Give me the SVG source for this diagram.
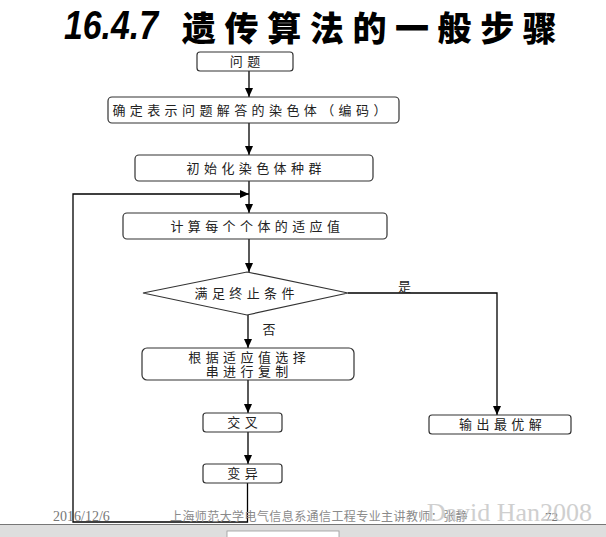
<svg xmlns="http://www.w3.org/2000/svg" width="606" height="537" viewBox="0 0 606 537">
<defs>
<marker id="ah" markerWidth="10" markerHeight="8" refX="9" refY="4" orient="auto" markerUnits="userSpaceOnUse">
<path d="M0,0 L9,4 L0,8 Z" fill="#000"/>
</marker>
<style>
.box{fill:#fff;stroke:#333;stroke-width:1.2}
.t{font-family:"Noto Sans CJK SC","Noto Sans",sans-serif;font-size:13px;fill:#222;letter-spacing:4.4px;text-anchor:middle}
.c{fill:none;stroke:#000;stroke-width:1.3}
.title{font-family:"Noto Sans CJK SC",sans-serif;font-weight:900;fill:#000}
</style>
</defs>
<rect width="606" height="537" fill="#fff"/>
<g id="title">
<text x="64" y="39" font-family="Liberation Sans,sans-serif" font-weight="bold" font-style="italic" font-size="40" textLength="94" lengthAdjust="spacingAndGlyphs">16.4.7</text>
<text class="title" x="182" y="41" font-size="34" letter-spacing="8.6">遗传算法的一般步骤</text>
</g>
<g id="connectors">
<line class="c" x1="249" y1="71" x2="249" y2="97" marker-end="url(#ah)"/>
<line class="c" x1="249" y1="123" x2="249" y2="155" marker-end="url(#ah)"/>
<line class="c" x1="249" y1="181" x2="249" y2="213" marker-end="url(#ah)"/>
<line class="c" x1="249" y1="239" x2="249" y2="272" marker-end="url(#ah)"/>
<line class="c" x1="248" y1="315" x2="248" y2="348" marker-end="url(#ah)"/>
<line class="c" x1="248" y1="380" x2="248" y2="413" marker-end="url(#ah)"/>
<line class="c" x1="248" y1="432" x2="248" y2="464" marker-end="url(#ah)"/>
<polyline class="c" points="348,293 497,293 497,415" marker-end="url(#ah)"/>
<polyline class="c" points="247.5,483 247.5,522 73,522 73,194 249,194" marker-end="url(#ah)"/>
</g>
<g id="n1"><rect class="box" x="197" y="52" width="96" height="19" rx="3"/><text class="t" x="247.2" y="66">问题</text></g>
<g id="n2"><rect class="box" x="108" y="97" width="291" height="26" rx="4"/><text class="t" x="251.6" y="114.6">确定表示问题解答的染色体（编码）</text></g>
<g id="n3"><rect class="box" x="135" y="155" width="238" height="26" rx="4"/><text class="t" x="256.2" y="172.6">初始化染色体种群</text></g>
<g id="n4"><rect class="box" x="123" y="213" width="264" height="26" rx="4"/><text class="t" x="257.4" y="230.6">计算每个个体的适应值</text></g>
<g id="n5"><polygon class="box" points="143,293 247,272 348,293 247,315"/><text class="t" x="246.7" y="298">满足终止条件</text></g>
<g id="n6"><rect class="box" x="142" y="348" width="212" height="32" rx="5"/><text class="t" x="249.2" y="362.3">根据适应值选择</text><text class="t" x="249.2" y="376">串进行复制</text></g>
<g id="n7"><rect class="box" x="203" y="413" width="79" height="19" rx="3"/><text class="t" x="244.7" y="427">交叉</text></g>
<g id="n8"><rect class="box" x="203" y="464" width="79" height="19" rx="3"/><text class="t" x="244.7" y="478">变异</text></g>
<g id="n9"><rect class="box" x="429" y="415" width="142" height="19" rx="3"/><text class="t" x="502.6" y="429">输出最优解</text></g>
<g id="labels">
<text class="t" x="406.7" y="290.6">是</text>
<text class="t" x="271.2" y="334">否</text>
</g>
<g id="footer">
<text x="53" y="521" font-family="Liberation Serif,serif" font-size="14" fill="#777">2016/12/6</text>
<text x="170" y="521" font-family="Noto Sans CJK SC,sans-serif" font-size="12" fill="#8a8a8a" letter-spacing="0.4" textLength="298" lengthAdjust="spacing">上海师范大学电气信息系通信工程专业主讲教师：张静</text>
<text x="545" y="521" font-family="Liberation Serif,serif" font-size="13" fill="#777">72</text>
<text x="592" y="521" text-anchor="end" font-family="Liberation Serif,serif" font-size="26" fill="#c4c4c4" opacity="0.8">David Han2008</text>
<rect x="0" y="524" width="606" height="13" fill="#dedede"/>
<line x1="0" y1="524.5" x2="606" y2="524.5" stroke="#777" stroke-width="1"/>
<rect x="227" y="531" width="112" height="7" fill="#fff" stroke="#999" stroke-width="0.8"/>
</g>
</svg>
